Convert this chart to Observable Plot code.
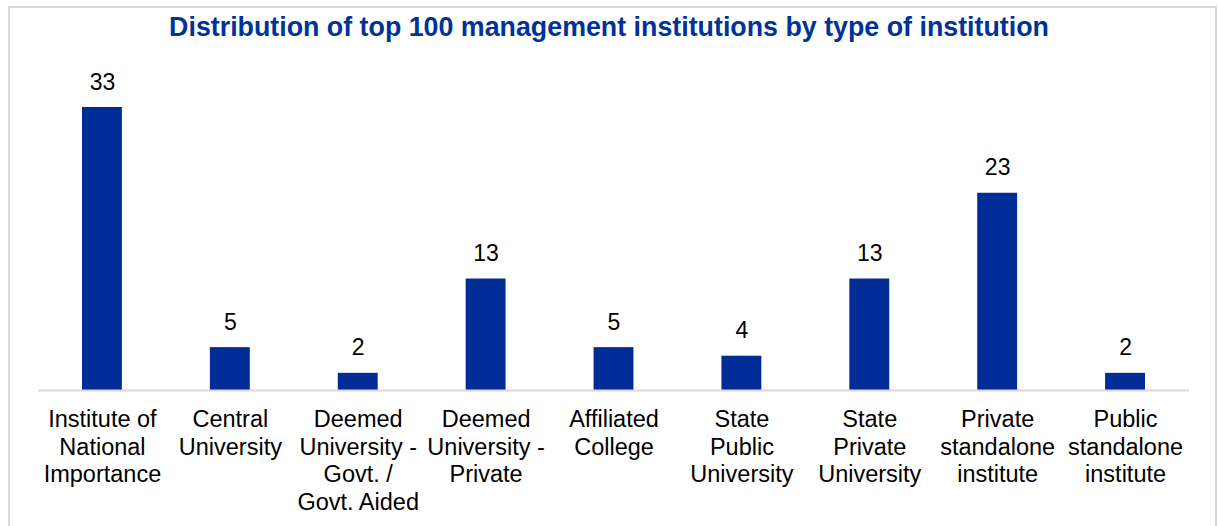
<!DOCTYPE html>
<html>
<head>
<meta charset="utf-8">
<script src="https://cdn.jsdelivr.net/npm/d3@7"></script>
<script src="https://cdn.jsdelivr.net/npm/@observablehq/plot@0.6"></script>
<style>
  html, body { margin: 0; padding: 0; background: #fff; overflow: hidden; }
  #wrap { position: relative; width: 1218px; height: 526px; }
  #border { position: absolute; left: 8px; top: 6px; width: 1209px; height: 540px;
            border: 2px solid #d9d9d9; box-sizing: border-box; }
  #title { position: relative; height: 54px; line-height: 54px; text-align: center;
           font-family: "Liberation Sans", Arial, sans-serif; font-weight: bold;
           font-size: 26.8px; color: #003399; }
  #chart { position: relative; }
</style>
</head>
<body>
<div id="wrap">
  <div id="border"></div>
  <div id="title">Distribution of top 100 management institutions by type of institution</div>
  <div id="chart"></div>
</div>
<script>
const categories = [
  "Institute of\nNational\nImportance",
  "Central\nUniversity",
  "Deemed\nUniversity -\nGovt. /\nGovt. Aided",
  "Deemed\nUniversity -\nPrivate",
  "Affiliated\nCollege",
  "State\nPublic\nUniversity",
  "State\nPrivate\nUniversity",
  "Private\nstandalone\ninstitute",
  "Public\nstandalone\ninstitute"
];
const counts = [33, 5, 2, 13, 5, 4, 13, 23, 2];

const data = categories.map((c, i) => ({category: c, count: counts[i]}));

const chart = Plot.plot({
  width: 1218,
  height: 472,
  marginLeft: 38,
  marginRight: 29,
  marginTop: 53,
  marginBottom: 136,
  style: {fontFamily: "'Liberation Sans', Arial, sans-serif", fontSize: "23.5px", color: "#000", background: "transparent"},
  x: {domain: categories, padding: 0, round: false, label: null},
  y: {domain: [0, 33], axis: null},
  marks: [
    Plot.barY(data, {x: "category", y: "count", fill: "#002c98", insetLeft: 44, insetRight: 44}),
    Plot.ruleY([0], {stroke: "#d9d9d9", strokeWidth: 2}),
    Plot.text(data, {x: "category", y: "count", text: d => String(d.count), lineAnchor: "bottom", dy: -18, fontSize: 23, fill: "#000"}),
    Plot.axisX({tickSize: 0, tickPadding: 17, lineHeight: 1.17, fontSize: 23.5, fill: "#000", label: null})
  ]
});
document.getElementById("chart").appendChild(chart);
</script>
</body>
</html>
